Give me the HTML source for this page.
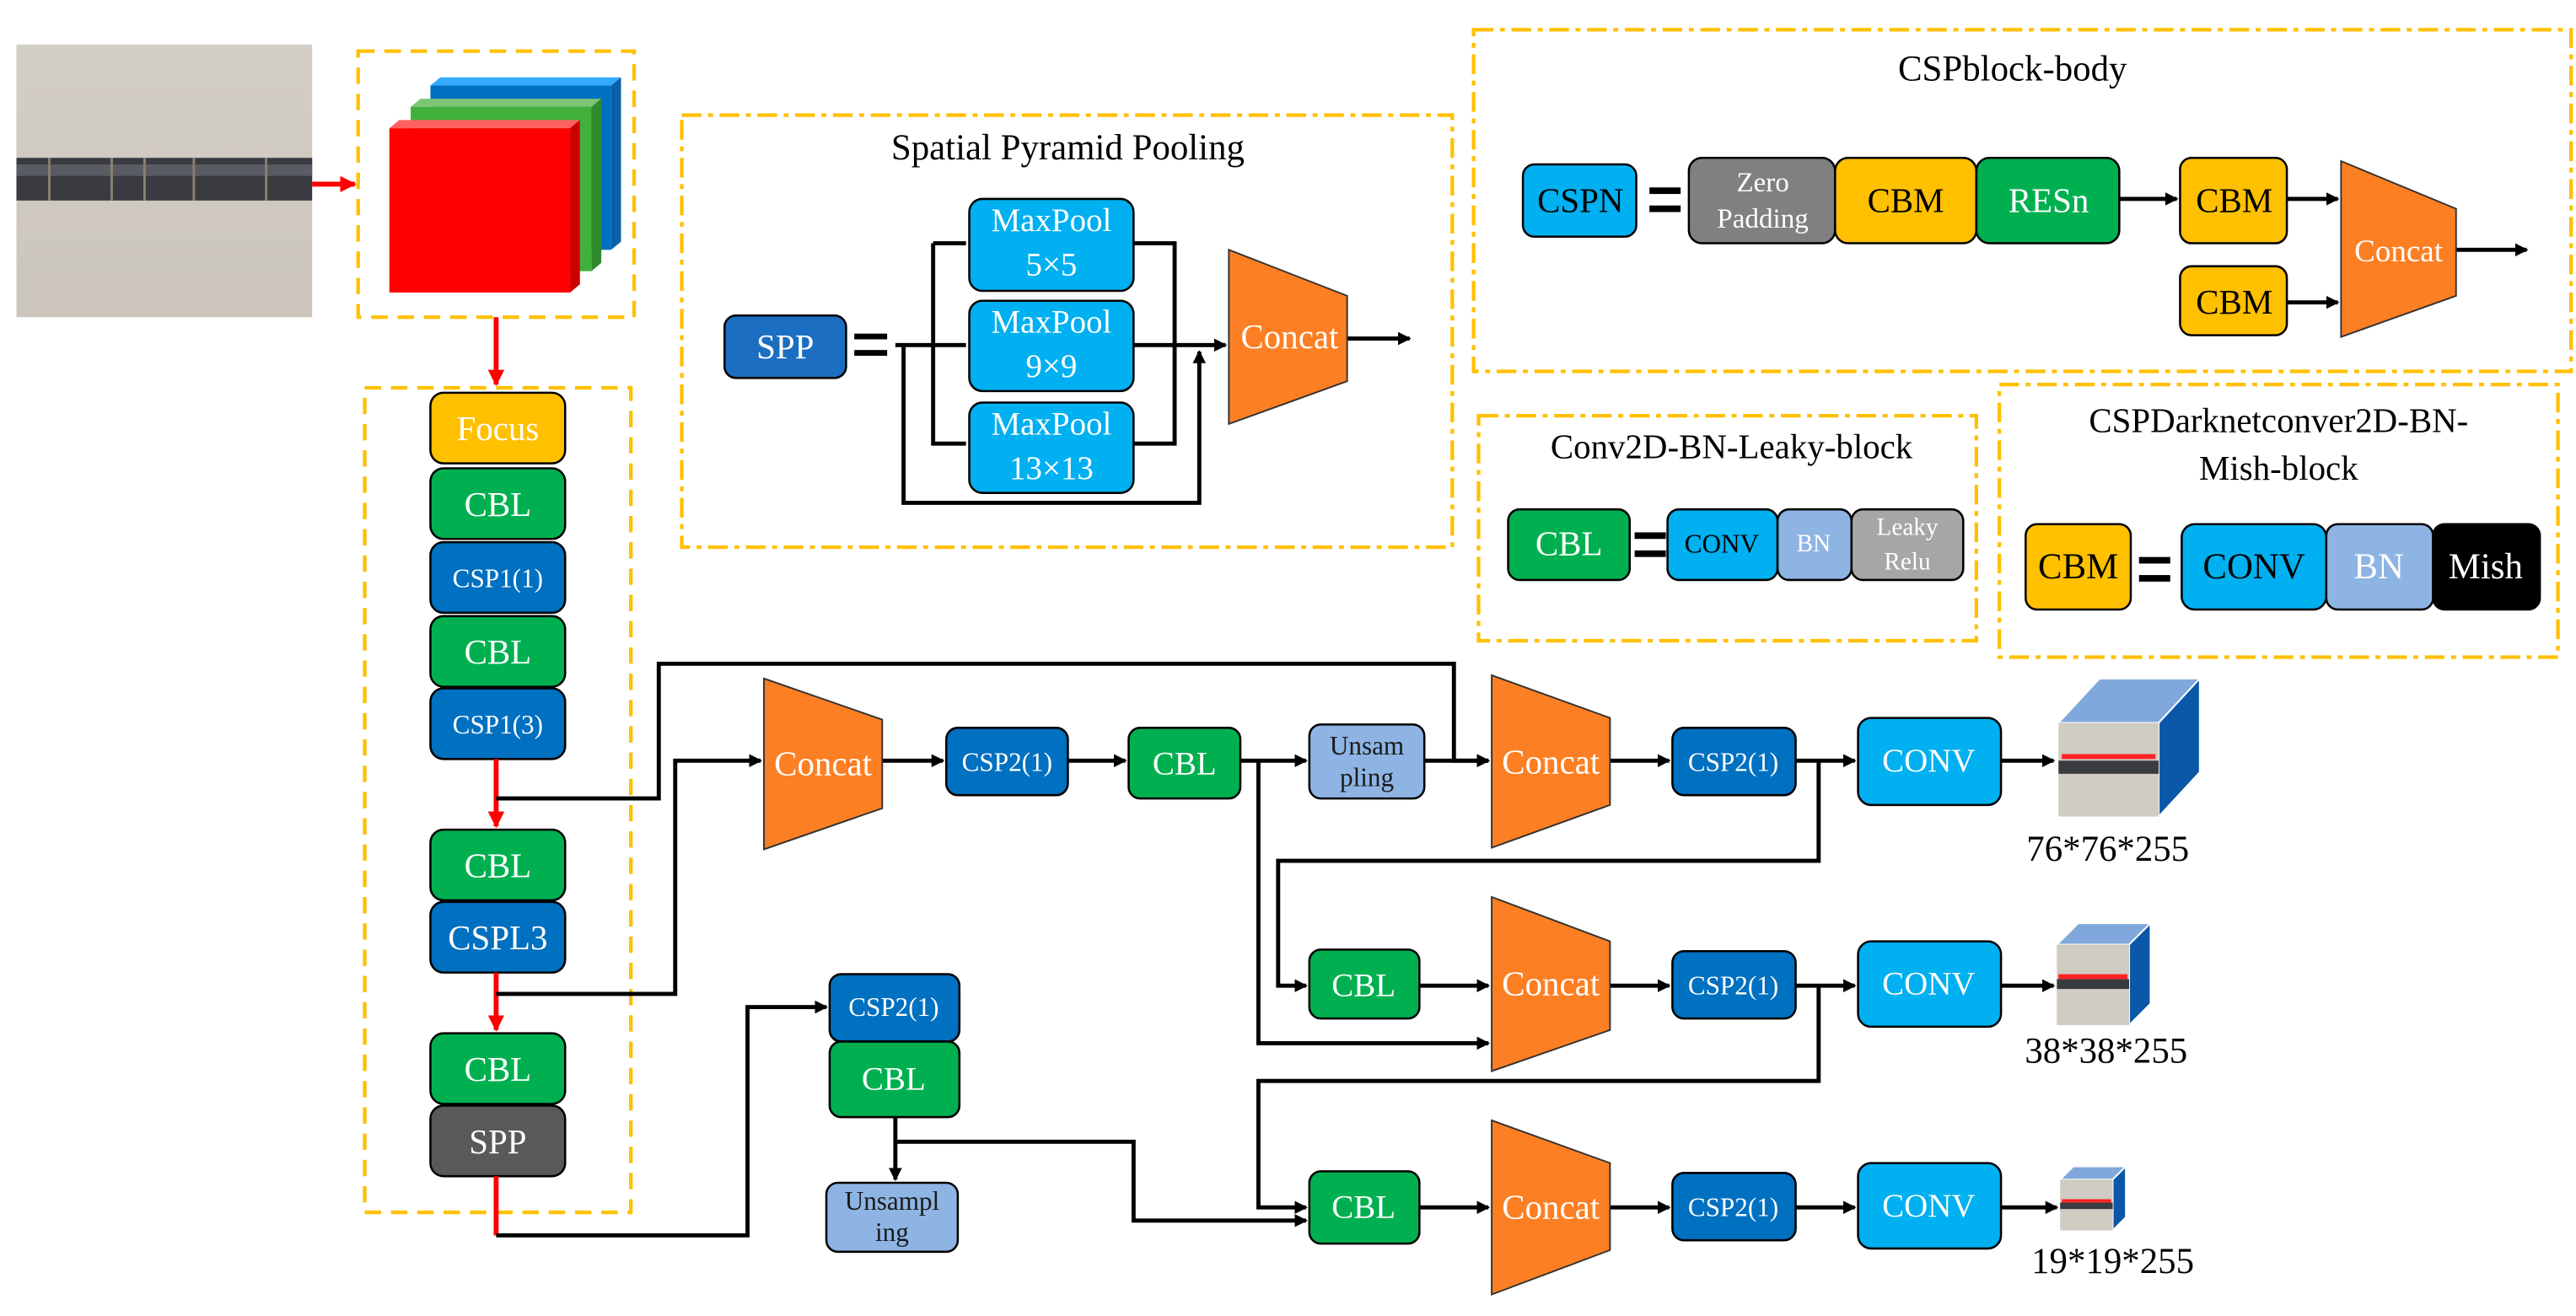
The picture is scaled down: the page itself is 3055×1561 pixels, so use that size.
<!DOCTYPE html>
<html><head><meta charset="utf-8"><style>
html,body{margin:0;padding:0;background:#fff}
svg{display:block;font-family:"Liberation Serif","DejaVu Serif",serif}
svg text{font-family:"Liberation Serif","DejaVu Serif",serif;text-anchor:middle;dominant-baseline:central}
</style></head><body>
<svg width="3055" height="1561" viewBox="0 0 1568 801" xmlns="http://www.w3.org/2000/svg" font-family="Liberation Serif, DejaVu Serif, serif">
<defs>
<marker id="a" markerWidth="8" markerHeight="8" refX="7" refY="4" orient="auto" markerUnits="userSpaceOnUse"><path d="M0,0 L8,4 L0,8 z" fill="#000"/></marker>
<marker id="r" markerWidth="10" markerHeight="10" refX="9" refY="5" orient="auto" markerUnits="userSpaceOnUse"><path d="M0,0 L10,5 L0,10 z" fill="#f00"/></marker>
<linearGradient id="ph" x1="0" y1="0" x2="0" y2="1"><stop offset="0" stop-color="#d3cec6"/><stop offset="1" stop-color="#cbc5bc"/></linearGradient>
</defs>

<!-- photo -->
<rect x="10" y="27" width="180" height="166" fill="url(#ph)"/>
<rect x="10" y="96" width="180" height="26" fill="#3a3b40"/>
<rect x="10" y="100" width="180" height="7" fill="#5a5c63"/>
<g stroke="#8a8070" stroke-width="1.5"><line x1="30" y1="96" x2="30" y2="122"/><line x1="68" y1="96" x2="68" y2="122"/><line x1="88" y1="96" x2="88" y2="122"/><line x1="118" y1="96" x2="118" y2="122"/><line x1="162" y1="96" x2="162" y2="122"/></g>
<line x1="190" y1="112" x2="216" y2="112" stroke="#f00" stroke-width="3" marker-end="url(#r)"/>

<!-- dashed boxes -->
<g fill="none" stroke="#ffc000" stroke-width="2.2">
<rect x="218" y="31" width="168" height="162" stroke-dasharray="10,6"/>
<rect x="222" y="236" width="162" height="502" stroke-dasharray="10,6"/>
<rect x="415" y="70" width="469" height="263" stroke-dasharray="12,4,3,4"/>
<rect x="897" y="18" width="668" height="208" stroke-dasharray="12,4,3,4"/>
<rect x="900" y="253" width="303" height="137" stroke-dasharray="12,4,3,4"/>
<rect x="1217" y="234" width="340" height="166" stroke-dasharray="12,4,3,4"/>
</g>

<!-- RGB layers -->
<polygon points="262,52 268,47 378,47 372,52" fill="#33aaff"/><polygon points="372,52 378,47 378,147 372,152" fill="#0b5fa8"/><rect x="262" y="52" width="110" height="100" fill="#0070c0"/>
<polygon points="250,65 256,60 366,60 360,65" fill="#7cc576"/><polygon points="360,65 366,60 366,160 360,165" fill="#2f8a2c"/><rect x="250" y="65" width="110" height="100" fill="#42b03c"/>
<polygon points="237,78 243,73 353,73 347,78" fill="#ff6060"/><polygon points="347,78 353,73 353,173 347,178" fill="#c00"/><rect x="237" y="78" width="110" height="100" fill="#f00"/>

<line x1="302" y1="193" x2="302" y2="234" stroke="#f00" stroke-width="3" marker-end="url(#r)"/>

<!-- backbone -->
<g stroke="#000" stroke-width="1.3">
<rect x="262" y="239" width="82" height="43" rx="8" fill="#ffc000"/>
<rect x="262" y="285" width="82" height="43" rx="8" fill="#00b050"/>
<rect x="262" y="330" width="82" height="43" rx="8" fill="#0070c0"/>
<rect x="262" y="375" width="82" height="43" rx="8" fill="#00b050"/>
<rect x="262" y="419" width="82" height="43" rx="8" fill="#0070c0"/>
<rect x="262" y="505" width="82" height="43" rx="8" fill="#00b050"/>
<rect x="262" y="549" width="82" height="43" rx="8" fill="#0070c0"/>
<rect x="262" y="629" width="82" height="43" rx="8" fill="#00b050"/>
<rect x="262" y="673" width="82" height="43" rx="8" fill="#595959"/>
</g>
<g fill="#fff" font-size="21">
<text x="303" y="261">Focus</text><text x="303" y="307">CBL</text><text x="303" y="352" font-size="16">CSP1(1)</text>
<text x="303" y="397">CBL</text><text x="303" y="441" font-size="16">CSP1(3)</text>
<text x="303" y="527">CBL</text><text x="303" y="571">CSPL3</text>
<text x="303" y="651">CBL</text><text x="303" y="695">SPP</text>
</g>
<g stroke="#f00" stroke-width="3">
<line x1="302" y1="462" x2="302" y2="503" marker-end="url(#r)"/>
<line x1="302" y1="592" x2="302" y2="627" marker-end="url(#r)"/>
<line x1="302" y1="716" x2="302" y2="752"/>
</g>

<!-- connectors -->
<g fill="none" stroke="#000" stroke-width="2.5">
<polyline points="302,752 455,752 455,613 503,613" marker-end="url(#a)"/>
<polyline points="302,486 401,486 401,404 885,404 885,463 906,463" marker-end="url(#a)"/>
<polyline points="302,605 411,605 411,463 463,463" marker-end="url(#a)"/>
<line x1="537" y1="463" x2="574" y2="463" marker-end="url(#a)"/>
<line x1="650" y1="463" x2="685" y2="463" marker-end="url(#a)"/>
<line x1="755" y1="463" x2="795" y2="463" marker-end="url(#a)"/>
<line x1="867" y1="463" x2="906" y2="463" marker-end="url(#a)"/>
<line x1="980" y1="463" x2="1016" y2="463" marker-end="url(#a)"/>
<line x1="1093" y1="463" x2="1129" y2="463" marker-end="url(#a)"/>
<line x1="1218" y1="463" x2="1250" y2="463" marker-end="url(#a)"/>
<polyline points="766,463 766,635 906,635" marker-end="url(#a)"/>
<polyline points="1107,463 1107,524 778,524 778,600 795,600" marker-end="url(#a)"/>
<line x1="864" y1="600" x2="906" y2="600" marker-end="url(#a)"/>
<line x1="980" y1="600" x2="1016" y2="600" marker-end="url(#a)"/>
<line x1="1093" y1="600" x2="1129" y2="600" marker-end="url(#a)"/>
<line x1="1218" y1="600" x2="1250" y2="600" marker-end="url(#a)"/>
<polyline points="1107,600 1107,658 766,658 766,735 795,735" marker-end="url(#a)"/>
<line x1="864" y1="735" x2="906" y2="735" marker-end="url(#a)"/>
<line x1="980" y1="735" x2="1016" y2="735" marker-end="url(#a)"/>
<line x1="1093" y1="735" x2="1129" y2="735" marker-end="url(#a)"/>
<line x1="1218" y1="735" x2="1252" y2="735" marker-end="url(#a)"/>
<line x1="545" y1="680" x2="545" y2="718" marker-end="url(#a)"/>
<polyline points="545,695 690,695 690,743 795,743" marker-end="url(#a)"/>
<!-- SPP -->
<line x1="545" y1="210" x2="588" y2="210"/>
<polyline points="568,148 568,270 588,270"/><line x1="568" y1="148" x2="588" y2="148"/>
<polyline points="690,148 715,148 715,270 690,270"/>
<line x1="690" y1="210" x2="746" y2="210" marker-end="url(#a)"/>
<polyline points="550,210 550,306 730,306 730,214" marker-end="url(#a)"/>
<line x1="820" y1="206" x2="858" y2="206" marker-end="url(#a)"/>
<!-- CSP body -->
<line x1="1290" y1="121" x2="1325" y2="121" marker-end="url(#a)"/>
<line x1="1392" y1="121" x2="1423" y2="121" marker-end="url(#a)"/>
<line x1="1392" y1="184" x2="1423" y2="184" marker-end="url(#a)"/>
<line x1="1495" y1="152" x2="1538" y2="152" marker-end="url(#a)"/>
</g>

<!-- concats -->
<g fill="#fd7f23" stroke="#333" stroke-width="1">
<polygon points="465,413 537,438 537,492 465,517"/>
<polygon points="908,411 980,437 980,490 908,516"/>
<polygon points="908,546 980,573 980,627 908,652"/>
<polygon points="908,682 980,708 980,761 908,788"/>
<polygon points="748,152 820,180 820,232 748,258"/>
<polygon points="1425,98 1495,127 1495,180 1425,205"/>
</g>
<g fill="#fff" font-size="21">
<text x="501" y="465">Concat</text><text x="944" y="464">Concat</text><text x="944" y="599">Concat</text><text x="944" y="735">Concat</text><text x="785" y="205">Concat</text><text x="1460" y="153" font-size="19">Concat</text>
</g>

<!-- neck boxes -->
<g stroke="#000" stroke-width="1.3">
<rect x="576" y="443" width="74" height="41" rx="7" fill="#0070c0"/>
<rect x="687" y="443" width="68" height="43" rx="7" fill="#00b050"/>
<rect x="797" y="441" width="70" height="45" rx="7" fill="#8eb4e3"/>
<rect x="1018" y="443" width="75" height="41" rx="7" fill="#0070c0"/>
<rect x="1131" y="437" width="87" height="53" rx="8" fill="#00b0f0"/>
<rect x="797" y="578" width="67" height="42" rx="7" fill="#00b050"/>
<rect x="1018" y="579" width="75" height="41" rx="7" fill="#0070c0"/>
<rect x="1131" y="573" width="87" height="52" rx="8" fill="#00b0f0"/>
<rect x="797" y="713" width="67" height="44" rx="7" fill="#00b050"/>
<rect x="1018" y="714" width="75" height="41" rx="7" fill="#0070c0"/>
<rect x="1131" y="708" width="87" height="52" rx="8" fill="#00b0f0"/>
<rect x="505" y="593" width="79" height="41" rx="7" fill="#0070c0"/>
<rect x="505" y="634" width="79" height="46" rx="7" fill="#00b050"/>
<rect x="503" y="720" width="80" height="42" rx="7" fill="#8eb4e3"/>
</g>
<g fill="#fff" font-size="20">
<text x="613" y="464" font-size="16">CSP2(1)</text><text x="721" y="465">CBL</text>
<text x="1055" y="464" font-size="16">CSP2(1)</text><text x="1174" y="463">CONV</text>
<text x="830" y="600">CBL</text><text x="1055" y="600" font-size="16">CSP2(1)</text><text x="1174" y="599">CONV</text>
<text x="830" y="735">CBL</text><text x="1055" y="735" font-size="16">CSP2(1)</text><text x="1174" y="734">CONV</text>
<text x="544" y="613" font-size="16">CSP2(1)</text><text x="544" y="657">CBL</text>
</g>
<g fill="#1a1a1a" font-size="16">
<text x="832" y="454">Unsam</text><text x="832" y="473">pling</text>
<text x="543" y="731">Unsampl</text><text x="543" y="750">ing</text>
</g>

<!-- cubes -->
<g>
<polygon points="1253,440 1278,413 1339,413 1314,440" fill="#80a8dc" stroke="#fff"/>
<polygon points="1314,440 1339,413 1339,470 1314,497" fill="#0b57a8" stroke="#fff"/>
<rect x="1253" y="440" width="61" height="57" fill="#d0cbc3"/>
<rect x="1253" y="463" width="61" height="8" fill="#3a3b40"/><rect x="1255" y="459" width="57" height="3" fill="#f22"/>
<polygon points="1252,575 1265,562 1309,562 1296,575" fill="#80a8dc" stroke="#fff"/>
<polygon points="1296,575 1309,562 1309,611 1296,624" fill="#0b57a8" stroke="#fff"/>
<rect x="1252" y="575" width="44" height="49" fill="#d0cbc3"/>
<rect x="1252" y="596" width="44" height="6" fill="#3a3b40"/><rect x="1253" y="593" width="42" height="3" fill="#f22"/>
<polygon points="1254,718 1262,710 1294,710 1286,718" fill="#80a8dc" stroke="#fff"/>
<polygon points="1286,718 1294,710 1294,741 1286,749" fill="#0b57a8" stroke="#fff"/>
<rect x="1254" y="718" width="32" height="31" fill="#d0cbc3"/>
<rect x="1254" y="732" width="32" height="4" fill="#3a3b40"/><rect x="1255" y="730" width="30" height="2" fill="#f22"/>
</g>
<g fill="#000" font-size="22">
<text x="1283" y="517">76*76*255</text><text x="1282" y="640">38*38*255</text><text x="1286" y="768">19*19*255</text>
</g>

<!-- SPP panel -->
<text x="650" y="90" font-size="22" fill="#000">Spatial Pyramid Pooling</text>
<g stroke="#000" stroke-width="1.3">
<rect x="441" y="192" width="74" height="38" rx="7" fill="#1b6ec2"/>
<rect x="590" y="121" width="100" height="56" rx="8" fill="#00b0f0"/>
<rect x="590" y="183" width="100" height="55" rx="8" fill="#00b0f0"/>
<rect x="590" y="245" width="100" height="55" rx="8" fill="#00b0f0"/>
</g>
<text x="478" y="211" font-size="21" fill="#fff">SPP</text>
<g fill="#fff" font-size="20">
<text x="640" y="134">MaxPool</text><text x="640" y="161">5×5</text>
<text x="640" y="196">MaxPool</text><text x="640" y="223">9×9</text>
<text x="640" y="258">MaxPool</text><text x="640" y="285">13×13</text>
</g>
<g fill="#000"><rect x="520" y="203" width="20" height="3.5"/><rect x="520" y="213" width="20" height="3.5"/></g>

<!-- CSPblock-body -->
<text x="1225" y="42" font-size="22" fill="#000">CSPblock-body</text>
<g stroke="#000" stroke-width="1.3">
<rect x="927" y="100" width="69" height="44" rx="7" fill="#00b0f0"/>
<rect x="1028" y="96" width="89" height="52" rx="8" fill="#808080"/>
<rect x="1117" y="96" width="86" height="52" rx="8" fill="#ffc000"/>
<rect x="1203" y="96" width="87" height="52" rx="8" fill="#00b050"/>
<rect x="1327" y="96" width="65" height="52" rx="7" fill="#ffc000"/>
<rect x="1327" y="162" width="65" height="42" rx="7" fill="#ffc000"/>
</g>
<g fill="#000"><rect x="1004" y="114" width="19" height="4"/><rect x="1004" y="125" width="19" height="4"/></g>
<text x="962" y="122" font-size="21" fill="#000">CSPN</text>
<text x="1073" y="111" font-size="17" fill="#fff">Zero</text><text x="1073" y="133" font-size="17" fill="#fff">Padding</text>
<text x="1160" y="122" font-size="21" fill="#000">CBM</text>
<text x="1247" y="122" font-size="21" fill="#fff">RESn</text>
<text x="1360" y="122" font-size="21" fill="#000">CBM</text>
<text x="1360" y="184" font-size="21" fill="#000">CBM</text>

<!-- Conv2D-BN-Leaky -->
<text x="1054" y="272" font-size="21" fill="#000">Conv2D-BN-Leaky-block</text>
<g stroke="#000" stroke-width="1.3">
<rect x="918" y="310" width="74" height="43" rx="7" fill="#00b050"/>
<rect x="1015" y="310" width="67" height="43" rx="7" fill="#00b0f0"/>
<rect x="1082" y="310" width="45" height="43" rx="7" fill="#8eb4e3"/>
<rect x="1127" y="310" width="68" height="43" rx="7" fill="#a6a6a6"/>
</g>
<g fill="#000"><rect x="995" y="324" width="19" height="4"/><rect x="995" y="335" width="19" height="4"/></g>
<text x="955" y="331" font-size="21" fill="#fff">CBL</text>
<text x="1048" y="331" font-size="16" fill="#000">CONV</text>
<text x="1104" y="331" font-size="15" fill="#fff">BN</text>
<text x="1161" y="321" font-size="15" fill="#fff">Leaky</text><text x="1161" y="342" font-size="15" fill="#fff">Relu</text>

<!-- CSPDarknet CBM -->
<text x="1387" y="256" font-size="21" fill="#000">CSPDarknetconver2D-BN-</text>
<text x="1387" y="285" font-size="21" fill="#000">Mish-block</text>
<g stroke="#000" stroke-width="1.3">
<rect x="1233" y="319" width="64" height="52" rx="7" fill="#ffc000"/>
<rect x="1328" y="319" width="88" height="52" rx="8" fill="#00b0f0"/>
<rect x="1416" y="319" width="65" height="52" rx="7" fill="#8eb4e3"/>
<rect x="1481" y="319" width="65" height="52" rx="7" fill="#000"/>
</g>
<g fill="#000"><rect x="1302" y="339" width="19" height="4"/><rect x="1302" y="350" width="19" height="4"/></g>
<text x="1265" y="345" font-size="22" fill="#000">CBM</text>
<text x="1372" y="345" font-size="22" fill="#000">CONV</text>
<text x="1448" y="345" font-size="22" fill="#fff">BN</text>
<text x="1513" y="345" font-size="22" fill="#fff">Mish</text>
</svg>
</body></html>
